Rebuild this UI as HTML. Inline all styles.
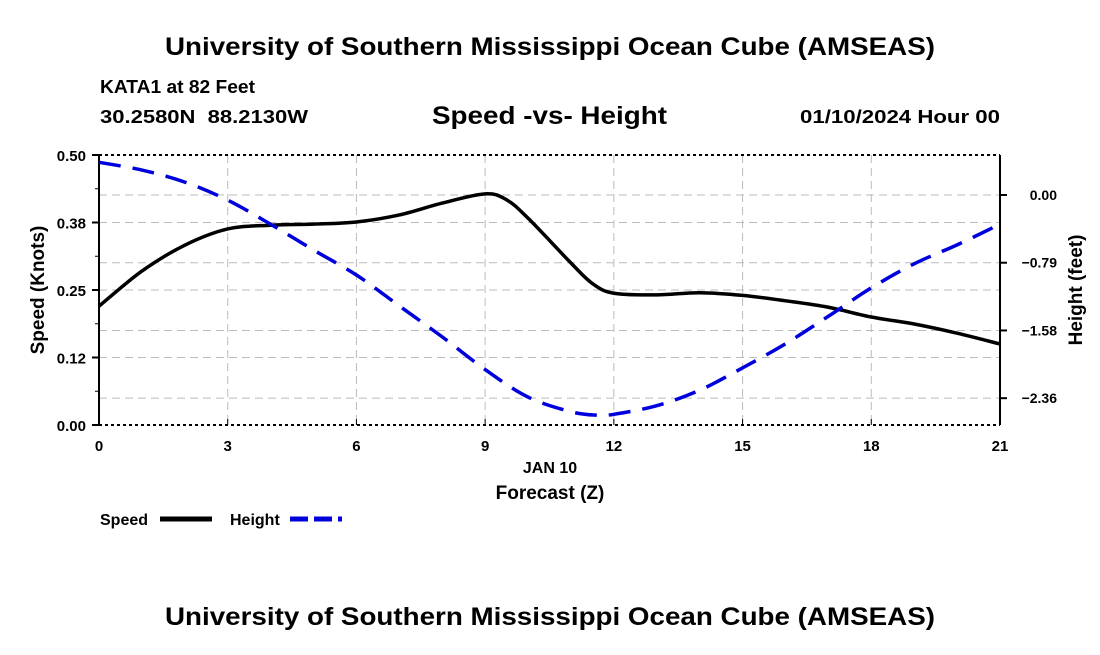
<!DOCTYPE html>
<html><head><meta charset="utf-8"><style>
body{margin:0;background:#fff;}
text{font-family:"Liberation Sans",sans-serif;font-weight:bold;fill:#000;white-space:pre;}
</style></head><body>
<svg id="chart" width="1100" height="650" viewBox="0 0 1100 650" xmlns="http://www.w3.org/2000/svg">
<rect width="1100" height="650" fill="#fff"/>
<text x="165" y="55" font-size="25" textLength="770" lengthAdjust="spacingAndGlyphs">University of Southern Mississippi Ocean Cube (AMSEAS)</text>
<text x="100" y="93" font-size="18" textLength="155" lengthAdjust="spacingAndGlyphs">KATA1 at 82 Feet</text>
<text x="100" y="123" font-size="18" textLength="208" lengthAdjust="spacingAndGlyphs" xml:space="preserve">30.2580N  88.2130W</text>
<text x="432" y="124" font-size="25" textLength="235" lengthAdjust="spacingAndGlyphs">Speed -vs- Height</text>
<text x="800" y="123" font-size="18" textLength="200" lengthAdjust="spacingAndGlyphs">01/10/2024 Hour 00</text>
<g id="grid"></g><g id="axes"></g><g id="series"></g>
<text transform="translate(44,290) rotate(-90)" font-size="19" text-anchor="middle">Speed (Knots)</text>
<text transform="translate(1082,290) rotate(-90)" font-size="19" text-anchor="middle">Height (feet)</text>
<text x="550" y="473" font-size="16" text-anchor="middle">JAN 10</text>
<text x="550" y="499" font-size="19" text-anchor="middle">Forecast (Z)</text>
<g><text x="100" y="525" font-size="16">Speed</text><line x1="160" y1="519" x2="212" y2="519" stroke="#000" stroke-width="5"/></g>
<g><text x="230" y="525" font-size="16">Height</text><line x1="290" y1="519" x2="342" y2="519" stroke="#0000dd" stroke-width="5" stroke-dasharray="18,6"/></g>
<text x="165" y="625" font-size="25" textLength="770" lengthAdjust="spacingAndGlyphs">University of Southern Mississippi Ocean Cube (AMSEAS)</text>
</svg>
<script>
const hours=[0,1,2,3,4,5,6,7,8,9,9.5,10,11,11.5,12,13,14,15,16,17,18,19,20,21];
const speed=[0.22,0.285,0.333,0.363,0.37,0.372,0.376,0.389,0.411,0.428,0.417,0.383,0.30,0.262,0.244,0.241,0.245,0.24,0.23,0.218,0.20,0.187,0.17,0.15];
const hHours=[0,1,2,3,4,5,6,7,8,9,10,11,11.6,12,13,14,15,16,17,18,19,20,21];
const height=[0.38,0.29,0.15,-0.06,-0.34,-0.64,-0.93,-1.29,-1.65,-2.03,-2.35,-2.52,-2.56,-2.55,-2.45,-2.27,-2.01,-1.73,-1.41,-1.08,-0.80,-0.58,-0.34];
const xTicks=[0,3,6,9,12,15,18,21];
const speedTicks=[0,0.125,0.25,0.375,0.5];
const speedLabels=["0.00","0.12","0.25","0.38","0.50"];
const heightTicks=[0,-0.7875,-1.575,-2.3625];
const heightLabels=["0.00","\u22120.79","\u22121.58","\u22122.36"];
const X0=99,X1=1000,Y0=425,Y1=155;
const xs=h=>X0+h/21*(X1-X0);
const ys=v=>Y0-v/0.5*(Y0-Y1);
const yh=v=>195-v*86;
const NS="http://www.w3.org/2000/svg";
function mk(tag,attrs,parent){const e=document.createElementNS(NS,tag);for(const k in attrs)e.setAttribute(k,attrs[k]);parent.appendChild(e);return e;}
const grid=document.getElementById('grid'),axes=document.getElementById('axes'),ser=document.getElementById('series');
xTicks.forEach(t=>{if(t>0&&t<21){const l=mk('line',{x1:xs(t),x2:xs(t),y1:Y1,y2:Y0,stroke:'#bbb','stroke-dasharray':'8,5'},grid);

}
const tx=mk('text',{x:xs(t),y:451,'font-size':15,'text-anchor':'middle'},axes);tx.textContent=t;


mk('line',{x1:xs(t),x2:xs(t),y1:Y0,y2:Y0-6,stroke:'#000'},axes);});
speedTicks.forEach((t,i)=>{if(t>0&&t<0.5){const l=mk('line',{x1:X0,x2:X1,y1:ys(t),y2:ys(t),stroke:'#bbb','stroke-dasharray':'8,5'},grid);

}
mk('line',{x1:X0-7,x2:X0,y1:ys(t),y2:ys(t),stroke:'#000','stroke-width':2},axes);
const tx=mk('text',{x:X0-13,y:ys(t)+6,'font-size':15,'text-anchor':'end'},axes);tx.textContent=speedLabels[i];

});
for(let v=0.0625;v<0.5;v+=0.125){mk('line',{x1:X0-4,x2:X0,y1:ys(v),y2:ys(v),stroke:'#000'},axes);}
heightTicks.forEach((t,i)=>{const l=mk('line',{x1:X0,x2:X1,y1:yh(t),y2:yh(t),stroke:'#bbb','stroke-dasharray':'8,5'},grid);


mk('line',{x1:X1,x2:X1+7,y1:yh(t),y2:yh(t),stroke:'#000','stroke-width':2},axes);
const tx=mk('text',{x:X1+57,y:yh(t)+5,'font-size':14,'text-anchor':'end'},axes);tx.textContent=heightLabels[i];

});
mk('line',{x1:X0,x2:X1,y1:Y1,y2:Y1,stroke:'#000','stroke-width':2,'stroke-dasharray':'3,3'},axes);
mk('line',{x1:X0,x2:X1,y1:Y0,y2:Y0,stroke:'#000','stroke-width':2,'stroke-dasharray':'3,3'},axes);
mk('line',{x1:X0,x2:X0,y1:Y1,y2:Y0,stroke:'#000','stroke-width':2},axes);
mk('line',{x1:X1,x2:X1,y1:Y1,y2:Y0,stroke:'#000','stroke-width':2},axes);
function smooth(pts){let d='M'+pts[0][0]+','+pts[0][1];for(let i=0;i<pts.length-1;i++){const p0=pts[Math.max(0,i-1)],p1=pts[i],p2=pts[i+1],p3=pts[Math.min(pts.length-1,i+2)];
d+=' C'+(p1[0]+(p2[0]-p0[0])/6)+','+(p1[1]+(p2[1]-p0[1])/6)+' '+(p2[0]-(p3[0]-p1[0])/6)+','+(p2[1]-(p3[1]-p1[1])/6)+' '+p2[0]+','+p2[1];}return d;}
const sp=mk('path',{d:smooth(hours.map((h,i)=>[xs(h),ys(speed[i])])),fill:'none',stroke:'#000','stroke-width':3.5},ser);


const hp=mk('path',{d:smooth(hHours.map((h,i)=>[xs(h),yh(height[i])])),fill:'none',stroke:'#0000dd','stroke-width':3.5,'stroke-dasharray':'22,12'},ser);


</script>
</body></html>
